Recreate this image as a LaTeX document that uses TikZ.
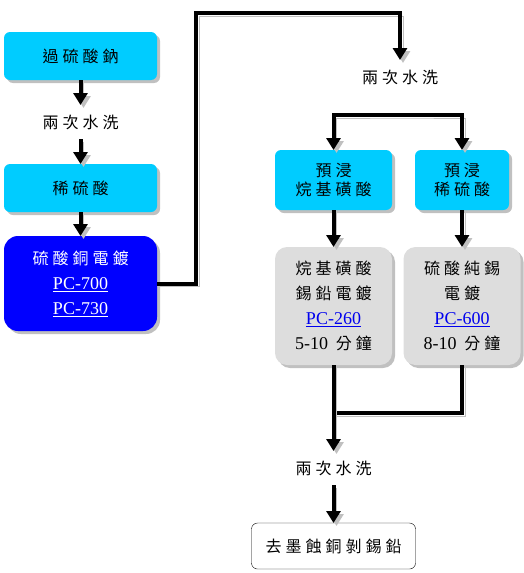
\documentclass[tikz,border=0pt]{standalone}
\usepackage{fontspec}
\setmainfont{Liberation Serif}
\newfontfamily\cjk{Noto Sans CJK TC}[LetterSpace=25]
\usetikzlibrary{
arrows.meta,
positioning,
shadows
}
\tikzset{>={Triangle[width=14pt,length=12pt]}}
\definecolor{dipcyan}{HTML}{00CCFF}
\definecolor{copperblue}{HTML}{0000FF}
\definecolor{tingray}{HTML}{DDDDDD}
\definecolor{shadowgray}{HTML}{C0C0C0}
\definecolor{linkblue}{HTML}{0000EE}
\newcommand{\pclink}[1]{{\rmfamily\fontsize{18}{19}\selectfont\underline{#1}}}
\newcommand{\latnum}[1]{{\rmfamily\fontsize{18}{19}\selectfont #1}}

\begin{document}
\begin{tikzpicture}[x=1pt, y=-1pt, font=\cjk\fontsize{16}{25}\selectfont,
	box/.style={minimum width=153pt, outer sep=0pt, inner sep=0pt, align=center, drop shadow={shadow xshift=3pt, shadow yshift=-3pt, fill=shadowgray, opacity=1}},
	dip/.style={box, fill=dipcyan, rounded corners=6pt, minimum height=48pt, font=\cjk\fontsize{16}{19}\selectfont},
	plate/.style={box, fill=tingray, rounded corners=12pt, minimum width=117pt, minimum height=118pt},
	rinse/.style={minimum height=34pt, inner sep=0pt, outer sep=0pt},
	flow/.style={line width=4pt, #1, preaction={draw=shadowgray, #1, transform canvas={shift={(3pt,-3pt)}}}},
	flow/.default=->]
		\useasboundingbox (0,0) rectangle (524,573);
		
		\node[dip]                       (sodium) at (80.5,56) {過硫酸鈉};
		\node[rinse]                     (rinse1) at (80.5,122) {兩次水洗};
		\node[dip]                       (acid)   at (80.5,188) {稀硫酸};
		\node[box,fill=copperblue,text=white,rounded corners=14pt,minimum height=95pt,below=24pt of acid] (copper) {硫酸銅電鍍\\\pclink{PC-700}\\\pclink{PC-730}};
		
		\node[rinse] (rinseTop) at (400,77) {兩次水洗};
		\node[dip,minimum width=117pt,minimum height=60pt] (preAlkyl) at (333.5,180) {預浸\\烷基磺酸};
		\node[dip,minimum width=94pt,minimum height=60pt,right=23pt of preAlkyl] (preAcid) {預浸\\稀硫酸};
		
		\node[plate,below=37pt of preAlkyl] (solder) {烷基磺酸\\錫鉛電鍍\\\textcolor{linkblue}{\pclink{PC-260}}\\\latnum{5-10} 分鐘};
		\node[plate,below=37pt of preAcid]  (tin)    {硫酸純錫\\電鍍\\\textcolor{linkblue}{\pclink{PC-600}}\\\latnum{8-10} 分鐘};
		
		\node[rinse] (rinse2) at (333.5,468) {兩次水洗};
		\node[draw,rounded corners=6pt,minimum width=164pt,minimum height=46pt,outer sep=0pt] (strip) at (333.5,546) {去墨蝕銅剝錫鉛};
		
		\coordinate (riseTop) at (196,13);
		\coordinate (split)   at (400,115);
		\coordinate (merge)   at (400,413);
		
		\draw[flow] (sodium) -- (rinse1);
		\draw[flow] (rinse1) -- (acid);
		\draw[flow] (acid) -- (copper);
		\draw[flow] (copper.east) -| (riseTop) -| (rinseTop.north);
		
		\draw[flow=<->] (preAlkyl.north) |- (split) -| (preAcid.north);
		\draw[flow] (preAlkyl) -- (solder);
		\draw[flow] (preAcid) -- (tin);
		
		\draw[flow=-] (tin.south) |- (solder.south |- merge);
		\draw[flow] (solder) -- (rinse2);
		\draw[flow] (rinse2) -- (strip);
	\end{tikzpicture}
\end{document}
